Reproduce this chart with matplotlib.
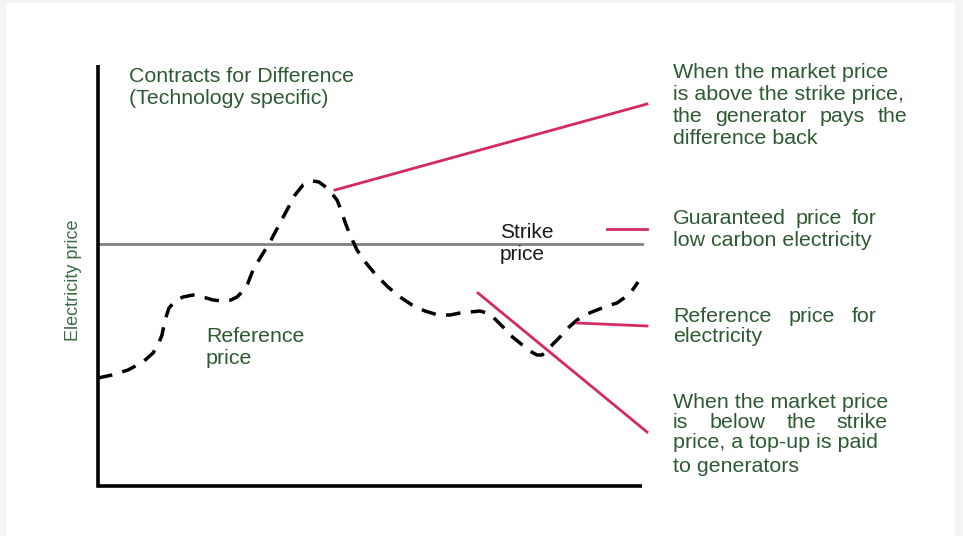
import matplotlib
matplotlib.use("Agg")
import matplotlib.pyplot as plt
from matplotlib.patches import Rectangle

# ---- data (diagram coordinates) ----
ref_x = [98, 112, 128, 143, 153, 158, 162, 165, 169, 175, 183, 193, 203, 213, 222, 231, 237, 243, 248, 253, 262, 270, 279, 287, 295, 303, 309, 313, 319, 327, 333, 337, 341, 345, 350, 357, 366, 376, 388, 400, 412, 425, 438, 450, 460, 470, 480, 487, 493, 498, 503, 510, 520, 528, 537, 542, 547, 553, 560, 568, 577, 587, 597, 607, 617, 624, 630, 634, 638]
ref_y = [378, 375, 370, 362, 353, 345, 335, 320, 308, 301, 297, 295, 297, 300, 301, 300, 297, 291, 283, 270, 255, 242, 225, 210, 195, 185, 182, 181, 182, 188, 195, 200, 210, 222, 235, 250, 263, 275, 287, 297, 305, 311, 315, 315, 313, 312, 311, 313, 317, 322, 327, 335, 343, 350, 355, 355, 351, 344, 337, 328, 320, 314, 310, 306, 303, 298, 293, 288, 282]

strike_y = 244
axis_x0, axis_x1 = 98, 642
axis_y0, axis_y1 = 65, 486

above_line_x = [335, 647]
above_line_y = [190, 104]
below_line_x = [478, 647]
below_line_y = [293, 432]
guar_line_x = [607, 647]
guar_line_y = [229, 229]
refl_line_x = [577, 647]
refl_line_y = [323, 326]

title_lines = ["Contracts for Difference", "(Technology specific)"]
ylabel = "Electricity price"
ref_label = ["Reference", "price"]
strike_label = ["Strike", "price"]

blocks = [
    # (lines, y positions, justify flags, justify right edge)
    (["When the market price", "is above the strike price,",
      "the generator pays the", "difference back"],
     [73, 95, 116, 138], [False, False, True, False], 907),
    (["Guaranteed price for", "low carbon electricity"],
     [219, 240], [True, False], 877),
    (["Reference price for", "electricity"],
     [316, 337], [True, False], 877),
    (["When the market price", "is below the strike",
      "price, a top-up is paid", "to generators"],
     [402, 423, 443, 466], [False, True, False, False], 888),
]

GREEN = "#2d5a31"
PINK = "#d42a5e"
FONT = "Liberation Sans"
FS = 15.4

W, H = 963, 536
fig = plt.figure(figsize=(W / 100, H / 100), dpi=100, facecolor="#f5f4f2")
ax = fig.add_axes([0, 0, 1, 1])
ax.set_xlim(0, W)
ax.set_ylim(H, 0)
ax.axis("off")
ax.add_patch(Rectangle((6, 3), 949, 540, facecolor="white", edgecolor="none", zorder=0))

# axes lines
ax.plot([axis_x0, axis_x0, axis_x1], [axis_y0, axis_y1, axis_y1], color="black", lw=2.6,
        solid_capstyle="butt", solid_joinstyle="miter", zorder=3)
# strike price
ax.plot([axis_x0, axis_x1], [strike_y, strike_y], color="#808080", lw=2, zorder=2)
# reference price dashed
ax.plot(ref_x, ref_y, color="black", lw=2.5, dashes=(4.2, 3.0), zorder=4)
# pink lines
for xs, ys in [(above_line_x, above_line_y), (below_line_x, below_line_y),
               (guar_line_x, guar_line_y), (refl_line_x, refl_line_y)]:
    ax.plot(xs, ys, color=PINK, lw=2, zorder=5)

# texts
for i, t in enumerate(title_lines):
    ax.text(129, 77 + 22 * i, t, color=GREEN, fontsize=FS, family=FONT, va="center", ha="left")
ax.text(73, 280, ylabel, color="#3d6b42", fontsize=13, family=FONT, rotation=90,
        va="center", ha="center")
for i, t in enumerate(ref_label):
    ax.text(206, 337 + 21 * i, t, color=GREEN, fontsize=FS, family=FONT, va="center", ha="left")
for i, t in enumerate(strike_label):
    ax.text(500, 232 + 22 * i, t, color="#1a1a1a", fontsize=FS - 0.4, family=FONT, va="center", ha="left")

fig.canvas.draw()
renderer = fig.canvas.get_renderer()

def text_width(s):
    t = ax.text(0, 0, s, fontsize=FS, family=FONT)
    bb = t.get_window_extent(renderer)
    t.remove()
    return bb.width  # pixels == data units here

x_left = 673
for lines, ys, just, xr in blocks:
    for line, y, j in zip(lines, ys, just):
        if not j:
            ax.text(x_left, y, line, color=GREEN, fontsize=FS, family=FONT, va="center", ha="left")
        else:
            words = line.split()
            widths = [text_width(w) for w in words]
            gap = (xr - x_left - sum(widths)) / (len(words) - 1)
            x = x_left
            for w, wd in zip(words, widths):
                ax.text(x, y, w, color=GREEN, fontsize=FS, family=FONT, va="center", ha="left")
                x += wd + gap

fig.savefig("out.png", dpi=100, facecolor=fig.get_facecolor())
